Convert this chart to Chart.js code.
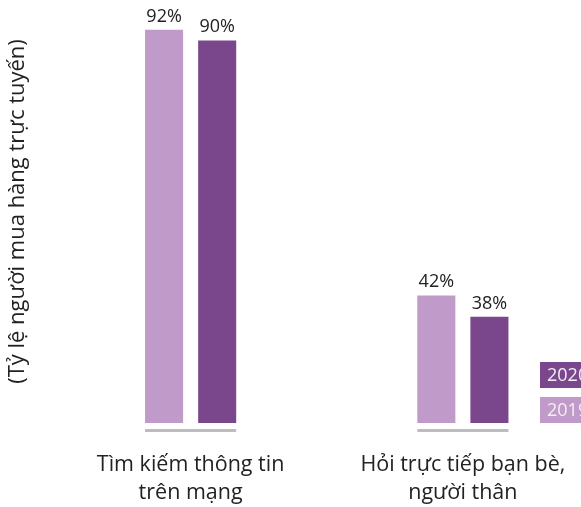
<!DOCTYPE html>
<html>
<head>
<meta charset="utf-8">
<title>Tìm kiếm thông tin</title>
<script src="https://cdn.jsdelivr.net/npm/chart.js@4.4.1/dist/chart.umd.min.js"></script>
<style>
  html, body { margin: 0; padding: 0; background: #fff; overflow: hidden; }
  #wrap { width: 599px; height: 507px; }
</style>
</head>
<body>
<div id="wrap">
  <canvas id="canvas1" width="599" height="507"></canvas>
</div>
<script type="text/javascript">
  // datos
  const categorias = [["Tìm kiếm thông tin", "trên mạng"], ["Hỏi trực tiếp bạn bè,", "người thân"]];
  const anios = ["2019", "2020"];
  const valores2019 = [92, 42];
  const valores2020 = [90, 38];
  const tituloY = "(Tỷ lệ người mua hàng trực tuyến)";

  const colores = ["#c09bc9", "#7b478c"];
  const fuente = "'Open Sans', 'Noto Sans', sans-serif";

  // etiquetas de porcentaje, linea gris y leyenda
  const extras = {
    id: 'extras',
    afterDatasetsDraw(chart) {
      const ctx = chart.ctx;
      const area = chart.chartArea;
      ctx.save();
      ctx.font = "18px " + fuente;
      ctx.fillStyle = "#222";
      ctx.textAlign = "center";
      ctx.textBaseline = "alphabetic";
      chart.data.datasets.forEach(function(ds, i) {
        chart.getDatasetMeta(i).data.forEach(function(bar, j) {
          ctx.fillText(ds.data[j] + "%", bar.x, bar.y - 8);
        });
      });

      // linea gris bajo cada grupo
      const m0 = chart.getDatasetMeta(0).data;
      const m1 = chart.getDatasetMeta(1).data;
      ctx.fillStyle = "#bdbdc0";
      for (var j = 0; j < m0.length; j++) {
        var x1 = m0[j].x - m0[j].width / 2;
        var x2 = m1[j].x + m1[j].width / 2;
        ctx.fillRect(x1, area.bottom + 6, x2 - x1, 3);
      }

      // leyenda: 2020 arriba, 2019 abajo
      var lx = area.right - 59;
      var items = [[anios[1], colores[1]], [anios[0], colores[0]]];
      ctx.font = "18px " + fuente;
      ctx.textAlign = "left";
      ctx.textBaseline = "middle";
      for (var k = 0; k < items.length; k++) {
        var top = area.bottom - 61 + k * 35;
        ctx.fillStyle = items[k][1];
        ctx.fillRect(lx, top, 70, 26);
        ctx.fillStyle = "#f4eef6";
        ctx.fillText(items[k][0], lx + 7, top + 14);
      }
      ctx.restore();
    }
  };

  var myChart = new Chart(document.getElementById('canvas1'), {
    type: 'bar',
    data: {
      labels: categorias,
      datasets: [
        { label: anios[0], data: valores2019, backgroundColor: colores[0] },
        { label: anios[1], data: valores2020, backgroundColor: colores[1] }
      ]
    },
    options: {
      responsive: false,
      animation: false,
      barPercentage: 0.717,
      categoryPercentage: 0.39,
      layout: { padding: 0 },
      plugins: {
        legend: { display: false },
        tooltip: { enabled: false }
      },
      scales: {
        x: {
          grid: { display: false, drawTicks: false },
          border: { display: false },
          ticks: {
            padding: 28,
            color: "#222",
            font: { family: fuente, size: 21.5, lineHeight: 1.3 }
          },
          afterFit: function(scale) { scale.height = 84; }
        },
        y: {
          min: 18,
          max: 97.6,
          grid: { display: false, drawTicks: false },
          border: { display: false },
          ticks: { display: false },
          title: {
            display: true,
            text: tituloY,
            color: "#222",
            padding: { top: 5, bottom: 4 },
            font: { family: fuente, size: 22 }
          },
          afterFit: function(scale) { scale.width = 54.5; }
        }
      }
    },
    plugins: [extras]
  });
</script>
</body>
</html>
